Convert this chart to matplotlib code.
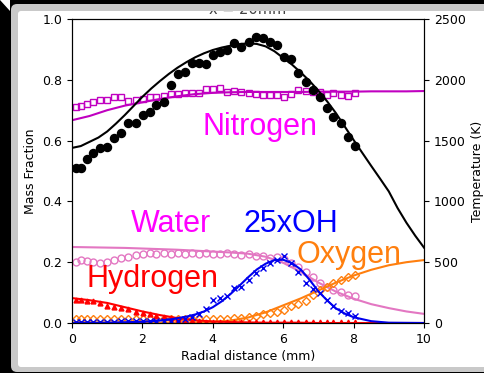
import matplotlib
matplotlib.use("Agg")
import matplotlib.pyplot as plt
from matplotlib.patches import FancyBboxPatch, Rectangle, Polygon
from matplotlib.transforms import IdentityTransform

# --- measured radial positions (mm) ---
r_meas = [0.10, 0.26, 0.43, 0.60, 0.80, 1.00, 1.20, 1.40, 1.60, 1.82, 2.02,
          2.22, 2.40, 2.60, 2.82, 3.02, 3.20, 3.40, 3.62, 3.82, 4.00, 4.20,
          4.40, 4.60, 4.80, 5.02, 5.22, 5.42, 5.62, 5.82, 6.02, 6.22, 6.42,
          6.64, 6.84, 7.04, 7.24, 7.42, 7.64, 7.84, 8.04]

# measured temperature (K)
T_meas = [1275, 1275, 1350, 1400, 1440, 1450, 1520, 1563, 1645, 1645, 1710,
          1735, 1793, 1820, 1958, 2050, 2065, 2138, 2138, 2130, 2200, 2225,
          2245, 2303, 2270, 2310, 2348, 2343, 2310, 2285, 2188, 2170, 2060,
          1983, 1915, 1858, 1768, 1695, 1645, 1530, 1455]

# measured mass fractions
N2_meas = [0.710, 0.714, 0.720, 0.727, 0.733, 0.733, 0.743, 0.743, 0.730, 0.733,
           0.737, 0.743, 0.743, 0.747, 0.753, 0.753, 0.757, 0.757, 0.757, 0.770,
           0.770, 0.773, 0.760, 0.763, 0.760, 0.757, 0.753, 0.750, 0.750, 0.750,
           0.743, 0.753, 0.766, 0.763, 0.760, 0.760, 0.750, 0.757, 0.750, 0.747,
           0.757]
H2O_meas = [0.200, 0.207, 0.205, 0.200, 0.197, 0.200, 0.207, 0.214, 0.217, 0.224,
            0.228, 0.230, 0.228, 0.230, 0.228, 0.230, 0.228, 0.230, 0.228, 0.230,
            0.228, 0.228, 0.230, 0.226, 0.224, 0.226, 0.220, 0.222, 0.214, 0.216,
            0.210, 0.197, 0.184, 0.168, 0.151, 0.130, 0.118, 0.108, 0.102, 0.092,
            0.089]
OH25_meas = [0.003, 0.003, 0.003, 0.004, 0.004, 0.004, 0.004, 0.005, 0.005, 0.005,
             0.005, 0.006, 0.006, 0.006, 0.007, 0.008, 0.012, 0.020, 0.030, 0.045,
             0.075, 0.082, 0.090, 0.115, 0.118, 0.140, 0.166, 0.182, 0.198, 0.208,
             0.220, 0.197, 0.168, 0.130, 0.112, 0.100, 0.076, 0.055, 0.040, 0.033,
             0.023]
O2_meas = [0.012, 0.012, 0.013, 0.012, 0.012, 0.013, 0.012, 0.012, 0.013, 0.012,
           0.012, 0.013, 0.012, 0.012, 0.013, 0.012, 0.012, 0.013, 0.012, 0.012,
           0.012, 0.013, 0.014, 0.015, 0.016, 0.020, 0.024, 0.028, 0.032, 0.036,
           0.043, 0.056, 0.064, 0.072, 0.092, 0.108, 0.120, 0.130, 0.142, 0.151,
           0.158]
H2_meas = [0.076, 0.075, 0.074, 0.071, 0.065, 0.057, 0.054, 0.049, 0.045, 0.037,
           0.032, 0.028, 0.023, 0.020, 0.017, 0.014, 0.011, 0.008, 0.006, 0.004,
           0.003, 0.003, 0.002, 0.002, 0.002, 0.002, 0.002, 0.002, 0.002, 0.002,
           0.002, 0.002, 0.002, 0.002, 0.002, 0.002, 0.002, 0.002, 0.002, 0.002,
           0.002]

# --- simulated profiles ---
r_model_T = [0.0, 0.25, 0.5, 0.75, 1.0, 1.25, 1.5, 1.75, 2.0, 2.25, 2.5, 2.75,
             3.0, 3.25, 3.5, 3.75, 4.0, 4.25, 4.5, 4.75, 5.0, 5.25, 5.5, 5.75,
             6.0, 6.25, 6.5, 6.75, 7.0, 7.25, 7.5, 7.75, 8.0, 8.25, 8.5, 8.75,
             9.0, 9.25, 9.5, 9.75, 10.0]
T_model = [1440, 1455, 1490, 1525, 1575, 1640, 1710, 1785, 1860, 1928, 1990, 2048,
           2100, 2145, 2185, 2218, 2245, 2265, 2280, 2293, 2300, 2295, 2275, 2235,
           2180, 2125, 2060, 1990, 1910, 1822, 1725, 1615, 1505, 1398, 1292, 1188,
           1082, 945, 825, 718, 620]

r_model = [0.0, 0.5, 1.0, 1.5, 2.0, 2.5, 3.0, 3.5, 4.0, 4.5, 5.0,
           5.5, 6.0, 6.5, 7.0, 7.5, 8.0, 8.5, 9.0, 9.5, 10.0]
N2_model = [0.667, 0.681, 0.700, 0.715, 0.726, 0.737, 0.746, 0.753, 0.757, 0.759,
            0.760, 0.760, 0.760, 0.760, 0.761, 0.761, 0.761, 0.762, 0.762, 0.762,
            0.763]
H2O_model = [0.250, 0.249, 0.248, 0.247, 0.245, 0.243, 0.241, 0.238, 0.235, 0.232,
             0.228, 0.218, 0.198, 0.168, 0.133, 0.103, 0.080, 0.062, 0.049, 0.038,
             0.030]
H2_model = [0.082, 0.075, 0.066, 0.052, 0.038, 0.026, 0.016, 0.009, 0.005, 0.003,
            0.002, 0.001, 0.001, 0.001, 0.0, 0.0, 0.0, 0.0, 0.0, 0.0, 0.0]
O2_model = [0.0, 0.0, 0.0, 0.0, 0.0, 0.0, 0.0, 0.001, 0.003, 0.008, 0.018,
            0.035, 0.058, 0.081, 0.107, 0.133, 0.156, 0.175, 0.190, 0.200, 0.207]

r_model_oh = [0.0, 1.0, 2.0, 2.5, 2.75, 3.0, 3.25, 3.5, 3.75, 4.0, 4.25, 4.5,
              4.75, 5.0, 5.25, 5.5, 5.75, 6.0, 6.25, 6.5, 6.75, 7.0, 7.25, 7.5,
              7.75, 8.0, 8.5, 9.0, 10.0]
OH25_model = [0.0, 0.001, 0.004, 0.008, 0.011, 0.016, 0.021, 0.028, 0.038, 0.052,
              0.071, 0.095, 0.122, 0.150, 0.176, 0.195, 0.207, 0.208, 0.197, 0.176,
              0.142, 0.104, 0.074, 0.048, 0.031, 0.019, 0.006, 0.001, 0.0]

x_ticks = [0, 2, 4, 6, 8, 10]
mf_ticks = [0.0, 0.2, 0.4, 0.6, 0.8, 1.0]
T_ticks = [0, 500, 1000, 1500, 2000, 2500]

W, H = 485, 373
fig = plt.figure(figsize=(W / 100, H / 100), dpi=100)
fig.patch.set_facecolor("black")

# window frame around the plot
fig.patches.append(FancyBboxPatch((11, 1), 500, 368, boxstyle="round,pad=0,rounding_size=6",
                                  transform=IdentityTransform(), facecolor="#c9c9c9",
                                  edgecolor="none", zorder=-10))
fig.patches.append(FancyBboxPatch((18, 6), 500, 356, boxstyle="round,pad=0,rounding_size=3",
                                  transform=IdentityTransform(), facecolor="white",
                                  edgecolor="none", zorder=-9))
fig.patches.append(Rectangle((0, 369), W, 4, transform=IdentityTransform(),
                             facecolor="black", edgecolor="none", zorder=10))
fig.patches.append(Rectangle((17, 362), W, 7, transform=IdentityTransform(),
                             facecolor="#c9c9c9", edgecolor="none", zorder=10))
fig.patches.append(Polygon([(0, 373), (10, 373), (10, 362)], closed=True,
                           transform=IdentityTransform(), facecolor="white",
                           edgecolor="none", zorder=11))

ax = fig.add_axes([72 / W, 1 - 323 / H, (424 - 72) / W, (323 - 19) / H])
ax.set_facecolor("white")

ms = 5
ax.plot(r_model, N2_model, color="#c000c0", lw=1.5)
ax.plot(r_meas, N2_meas, ls="none", marker="s", ms=ms, mfc="none", mec="#c000c0", mew=1.0)

ax.plot(r_model, H2O_model, color="#e377c2", lw=1.5)
ax.plot(r_meas, H2O_meas, ls="none", marker="o", ms=ms, mfc="none", mec="#e377c2", mew=1.0)

ax.plot(r_model, O2_model, color="#ff7f0e", lw=1.5)
ax.plot(r_meas, O2_meas, ls="none", marker="D", ms=4, mfc="none", mec="#ff7f0e", mew=1.0)

ax.plot(r_model, H2_model, color="red", lw=1.5)
ax.plot(r_meas, H2_meas, ls="none", marker="^", ms=3.5, color="red")

ax.plot(r_model_oh, OH25_model, color="#0000ee", lw=1.5)
ax.plot(r_meas, OH25_meas, ls="none", marker="x", ms=5, mec="#0000ee", mew=1.0)

ax.set_xlim(0, 10)
ax.set_ylim(0, 1.0)
ax.set_xticks(x_ticks)
ax.set_yticks(mf_ticks)
ax.set_xlabel("Radial distance (mm)", fontsize=9, labelpad=3)
ax.set_ylabel("Mass Fraction", fontsize=9)
ax.tick_params(labelsize=9)
ax.set_title("x = 20mm", fontsize=10.5, pad=3.5, color="#444444")

lbl = dict(fontsize=22, family="Liberation Sans", ha="center", va="baseline")
ax.text(5.35, 0.620, "Nitrogen", color="#ff00ff", **lbl)
ax.text(2.82, 0.298, "Water", color="#ff00ff", **lbl)
ax.text(6.22, 0.298, "25xOH", color="#0000ff", **lbl)
ax.text(7.86, 0.197, "Oxygen", color="#ff7f0e", **lbl)
ax.text(2.3, 0.118, "Hydrogen", color="red", **lbl)

ax2 = ax.twinx()
ax2.plot(r_model_T, T_model, color="black", lw=1.5)
ax2.plot(r_meas, T_meas, ls="none", marker="o", ms=5.8, color="black")
ax2.set_ylim(0, 2500)
ax2.set_yticks(T_ticks)
ax2.set_ylabel("Temperature (K)", fontsize=9)
ax2.tick_params(labelsize=9)

fig.savefig("out.png", dpi=100, facecolor=fig.get_facecolor())
